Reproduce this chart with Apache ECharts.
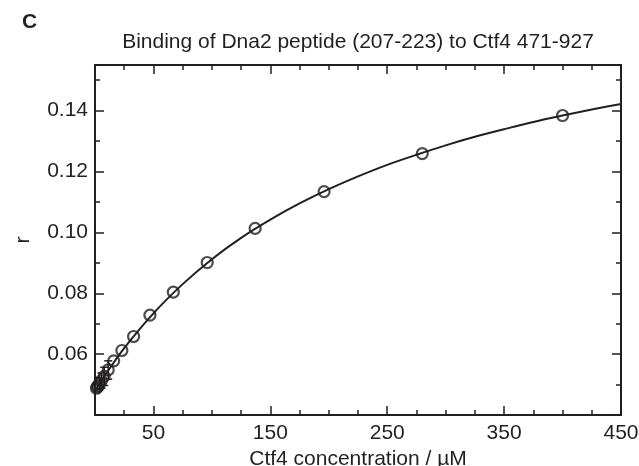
<!DOCTYPE html>
<html>
<head>
<meta charset="utf-8">
<script src="https://cdn.jsdelivr.net/npm/echarts@6/dist/echarts.min.js"></script>
<style>
  html, body { margin: 0; padding: 0; background: #fff; }
  #chart-container { width: 639px; height: 466px; }
</style>
</head>
<body>
<div id="chart-container"></div>
<script>
// measured points: Ctf4 concentration (uM) and r
const concentration = [400, 280, 196, 137, 96, 67, 47, 33, 23, 16, 11.3, 7.9, 5.5, 3.9, 2.7, 1.9, 1.3];
const rValues = [0.1384, 0.1259, 0.1134, 0.1013, 0.0901, 0.0804, 0.0728, 0.0658, 0.0612, 0.0578, 0.0548, 0.0527, 0.0513, 0.0503, 0.0496, 0.0492, 0.0488];
const rErrors = [0, 0, 0, 0, 0, 0, 0, 0, 0, 0, 0.003, 0.003, 0.0025, 0.002, 0, 0, 0];

// fitted binding curve
const fitX = [0, 5, 10, 25, 50, 75, 100, 125, 150, 175, 200, 225, 250, 275, 300, 325, 350, 375, 400, 425, 450];
const fitR = [0.048, 0.051, 0.0539, 0.062, 0.0734, 0.083, 0.0912, 0.0982, 0.1042, 0.1095, 0.1142, 0.1184, 0.1222, 0.1255, 0.1286, 0.1314, 0.1339, 0.1363, 0.1384, 0.1404, 0.1422];

// x tick positions (every 25, labelled at 50, 150, ...)
const xTickLabels = ['0', '25', '50', '75', '100', '125', '150', '175', '200', '225', '250', '275', '300', '325', '350', '375', '400', '425', '450'];

var dom = document.getElementById("chart-container");
var myChart = echarts.init(dom, null, { renderer: "canvas" });

const ink = "#231f20";
const fontFamily = '"Liberation Sans", Arial, sans-serif';
const fontSize = 21;

const points = concentration.map((x, i) => [x, rValues[i]]);
const errs = concentration
  .map((x, i) => [x, rValues[i], rErrors[i]])
  .filter((d) => d[2] > 0);
const curve = fitX.map((x, i) => [x, fitR[i]]);

function xLabel(v) {
  return v % 100 === 50 ? String(v) : "";
}
function yLabel(v) {
  const k = Math.round(v * 100);
  if (Math.abs(v * 100 - k) > 1e-6) return "";
  return k % 2 === 0 && k >= 6 && k <= 14 ? v.toFixed(2) : "";
}

// short ticks on a value axis
function valueX(pos, extra) {
  return Object.assign({
    type: "value", position: pos, min: 0, max: 450, interval: 25,
    axisLine: { show: true, onZero: false, lineStyle: { color: ink, width: 2 } },
    axisTick: { show: true, inside: true, length: 5, lineStyle: { color: ink, width: 1.5 } },
    axisLabel: { show: false },
    splitLine: { show: false },
  }, extra);
}
// long ticks via a category axis laid over the same span
function longX(pos) {
  return {
    type: "category", position: pos, boundaryGap: false, data: xTickLabels,
    axisLine: { show: false, onZero: false },
    axisTick: { show: true, inside: true, length: 9, interval: (i, v) => +v % 100 === 50, lineStyle: { color: ink, width: 1.5 } },
    axisLabel: { show: false },
    splitLine: { show: false },
  };
}
function valueY(pos, interval, len, extra) {
  return Object.assign({
    type: "value", position: pos, min: 0.04, max: 0.155, interval: interval,
    axisLine: { show: true, onZero: false, lineStyle: { color: ink, width: 2 } },
    axisTick: { show: true, inside: true, length: len, lineStyle: { color: ink, width: 1.5 } },
    axisLabel: { show: false },
    splitLine: { show: false },
  }, extra);
}

var option = {
  animation: false,
  backgroundColor: "#fff",
  textStyle: { fontFamily: fontFamily },
  grid: { left: 95, right: 18, top: 65, bottom: 51, containLabel: false, outerBoundsMode: "none" },
  graphic: [
    {
      type: "text", left: 22, top: 12,
      style: { text: "C", font: "bold 21px " + fontFamily, fill: ink },
    },
  ],
  xAxis: [
    valueX("bottom", {
      axisLabel: { show: true, formatter: xLabel, color: ink, fontSize: fontSize, margin: 8, fontFamily: fontFamily },
      name: "Ctf4 concentration / µM",
      nameLocation: "middle",
      nameGap: 24,
      nameTextStyle: { color: ink, fontSize: fontSize, fontFamily: fontFamily },
    }),
    longX("bottom"),
    valueX("top", {
      name: "Binding of Dna2 peptide (207-223) to Ctf4 471-927",
      nameLocation: "middle",
      nameGap: 12,
      nameTextStyle: { color: ink, fontSize: fontSize, fontFamily: fontFamily },
    }),
    longX("top"),
  ],
  yAxis: [
    valueY("left", 0.01, 5, {
      axisLabel: { show: true, formatter: yLabel, color: ink, fontSize: fontSize, margin: 7, fontFamily: fontFamily },
      name: "r",
      nameLocation: "middle",
      nameRotate: 90,
      nameGap: 61,
      nameTextStyle: { color: ink, fontSize: fontSize, fontFamily: fontFamily },
    }),
    valueY("left", 0.02, 9, { axisLine: { show: false, onZero: false } }),
    valueY("right", 0.01, 5),
    valueY("right", 0.02, 9, { axisLine: { show: false, onZero: false } }),
  ],
  series: [
    {
      type: "line",
      data: curve,
      xAxisIndex: 0, yAxisIndex: 0,
      smooth: 0.3,
      showSymbol: false,
      lineStyle: { color: ink, width: 2 },
      z: 2,
    },
    {
      type: "custom",
      data: errs,
      xAxisIndex: 0, yAxisIndex: 0,
      renderItem: function (params, api) {
        const x = api.value(0), y = api.value(1), e = api.value(2);
        const lo = api.coord([x, y - e]);
        const hi = api.coord([x, y + e]);
        const cap = 4;
        const st = { stroke: ink, lineWidth: 1.5 };
        return {
          type: "group",
          children: [
            { type: "line", shape: { x1: lo[0], y1: lo[1], x2: hi[0], y2: hi[1] }, style: st },
            { type: "line", shape: { x1: lo[0] - cap, y1: lo[1], x2: lo[0] + cap, y2: lo[1] }, style: st },
            { type: "line", shape: { x1: hi[0] - cap, y1: hi[1], x2: hi[0] + cap, y2: hi[1] }, style: st },
          ],
        };
      },
      z: 3,
    },
    {
      type: "scatter",
      data: points,
      xAxisIndex: 0, yAxisIndex: 0,
      symbol: "circle",
      symbolSize: 11,
      itemStyle: { color: "rgba(0,0,0,0)", borderColor: ink, borderWidth: 2.2 },
      z: 4,
    },
  ],
};

if (option && typeof option === "object") {
  myChart.setOption(option);
}

window.addEventListener("resize", myChart.resize);
</script>
</body>
</html>
